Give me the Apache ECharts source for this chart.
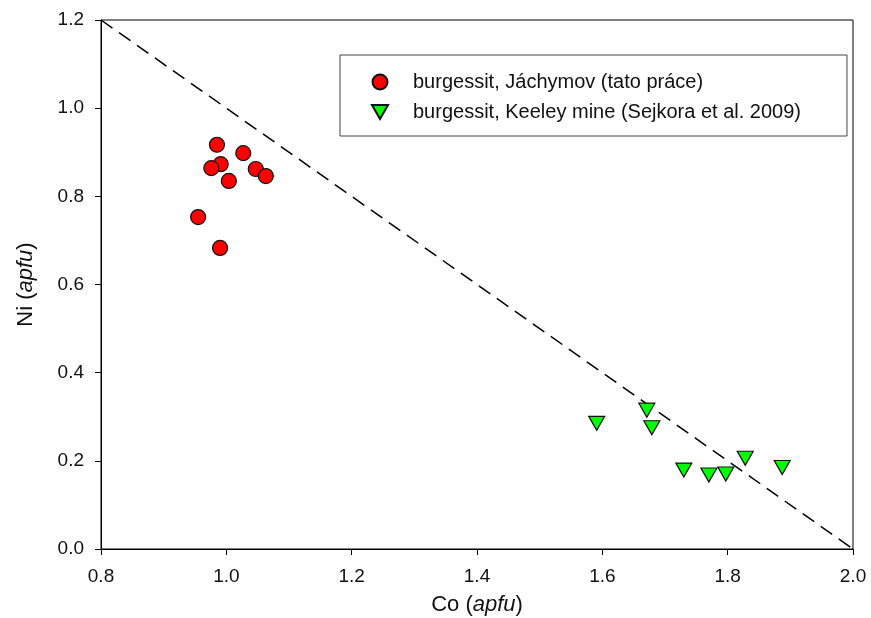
<!DOCTYPE html>
<html><head><meta charset="utf-8">
<script src="https://cdn.jsdelivr.net/npm/echarts@6/dist/echarts.min.js"></script>
<style>html,body{margin:0;padding:0;background:#fff}#c{width:871px;height:618px}</style>
</head><body><div id="c"></div>
<script>
const jachymovCo = [0.985, 0.991, 0.976, 1.027, 1.004, 1.047, 1.063, 0.955, 0.990];
const jachymovNi = [0.917, 0.873, 0.864, 0.898, 0.835, 0.862, 0.846, 0.753, 0.683];
const keeleyCo = [1.591, 1.671, 1.679, 1.730, 1.770, 1.797, 1.828, 1.887];
const keeleyNi = [0.285, 0.315, 0.275, 0.179, 0.168, 0.170, 0.206, 0.185];
const lineCo = [0.8, 2.0];
const lineNi = [1.2, 0.0];
const seriesNames = ['burgessit, Jáchymov (tato práce)', 'burgessit, Keeley mine (Sejkora et al. 2009)'];

const zip = (a, b) => a.map((v, i) => [v, b[i]]);
const font = 'Arial, "Liberation Sans", sans-serif';
const chart = echarts.init(document.getElementById('c'));
const titleRich = {
  n: {fontFamily: font, fontSize: 22, color: '#111'},
  i: {fontFamily: font, fontSize: 22, fontStyle: 'italic', color: '#111'}
};
chart.setOption({
  animation: false,
  backgroundColor: '#fff',
  grid: {left: 101, right: 18, top: 20, bottom: 69, containLabel: false, outerBoundsMode: 'none',
         show: true, borderColor: '#000', borderWidth: 1, backgroundColor: 'transparent'},
  xAxis: {
    type: 'value', min: 0.8, max: 2.0, interval: 0.2,
    name: '{n|Co (}{i|apfu}{n|)}', nameLocation: 'middle', nameGap: 45,
    nameTextStyle: {rich: titleRich},
    axisLine: {lineStyle: {color: '#000', width: 1}},
    axisTick: {inside: false, length: 6, lineStyle: {color: '#000'}},
    axisLabel: {fontFamily: font, fontSize: 19, color: '#111', margin: 18, formatter: v => v.toFixed(1)},
    splitLine: {show: false}
  },
  yAxis: {
    type: 'value', min: 0, max: 1.2, interval: 0.2,
    name: '{n|Ni (}{i|apfu}{n|)}', nameLocation: 'middle', nameGap: 64, nameRotate: 90,
    nameTextStyle: {rich: titleRich},
    axisLine: {show: true, lineStyle: {color: '#000', width: 1}},
    axisTick: {show: true, inside: false, length: 6, lineStyle: {color: '#000'}},
    axisLabel: {fontFamily: font, fontSize: 19, color: '#111', margin: 17, formatter: v => v.toFixed(1)},
    splitLine: {show: false}
  },
  legend: {
    orient: 'vertical', left: 340, top: 55,
    data: [
      {name: seriesNames[0], icon: 'circle'},
      {name: seriesNames[1], icon: 'path://M0,0L16,0L8,14Z'}
    ],
    borderColor: '#444', borderWidth: 1, borderRadius: 0,
    padding: [17, 46, 14, 31], itemGap: 10,
    itemWidth: 16, itemHeight: 15,
    textStyle: {fontFamily: font, fontSize: 20, color: '#111', padding: [0, 0, 0, 20]}
  },
  series: [
    {
      type: 'line', data: zip(lineCo, lineNi), symbol: 'none', silent: true,
      lineStyle: {color: '#000', width: 1.5, type: [14, 8]}, z: 1
    },
    {
      name: seriesNames[0], type: 'scatter', data: zip(jachymovCo, jachymovNi),
      symbol: 'circle', symbolSize: 15,
      itemStyle: {color: '#ff0000', borderColor: '#111', borderWidth: 1.2, opacity: 1}, z: 3
    },
    {
      name: seriesNames[1], type: 'scatter', data: zip(keeleyCo, keeleyNi),
      symbol: 'triangle', symbolRotate: 180, symbolSize: [16, 14],
      itemStyle: {color: '#00ff00', borderColor: '#111', borderWidth: 1.2, opacity: 1}, z: 3
    }
  ]
});
</script></body></html>
